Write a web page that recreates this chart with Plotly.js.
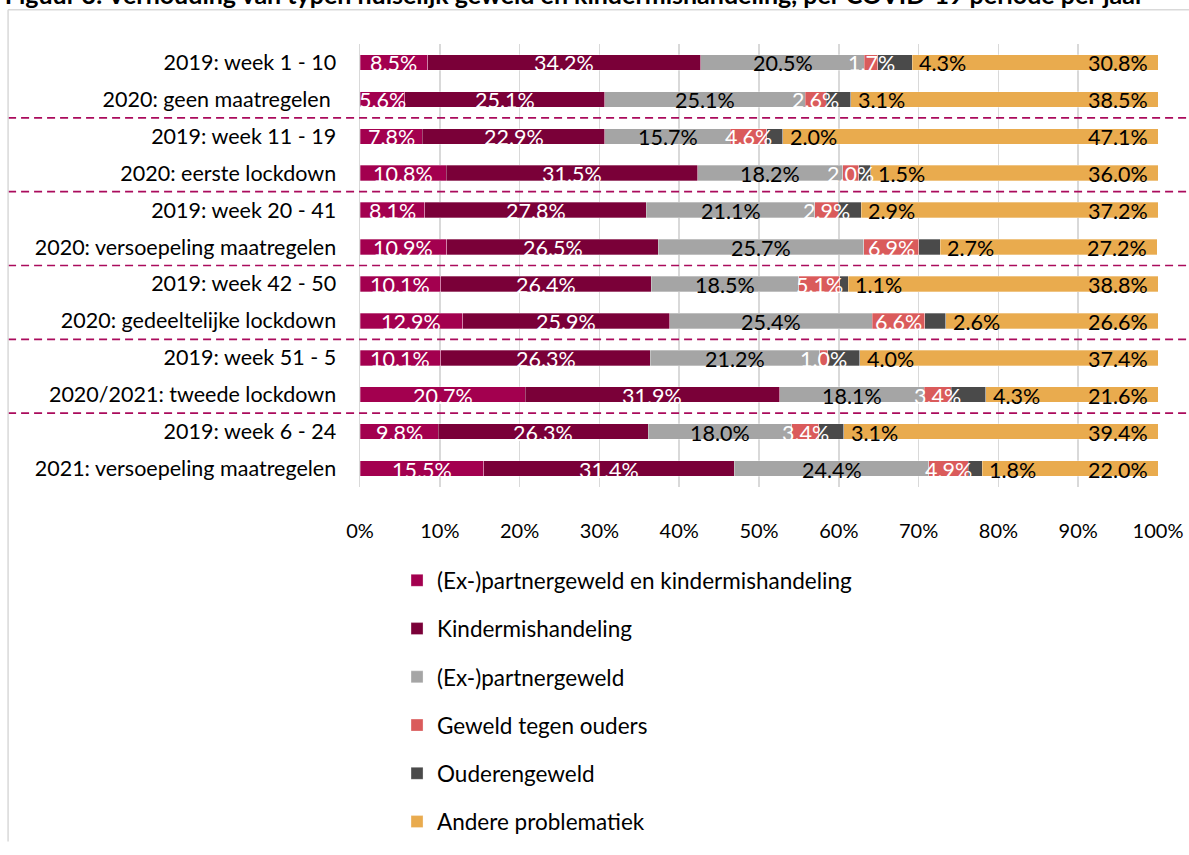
<!DOCTYPE html>
<html>
<head>
<meta charset="utf-8">
<script src="https://cdn.plot.ly/plotly-3.0.1.min.js"></script>
<style>html,body{margin:0;padding:0;background:#fff;}#chart{width:1189px;height:855px;}</style>
</head>
<body>
<div id="chart"></div>
<script>
const categories = [
  '2019: week 1 - 10',
  '2020: geen maatregelen\u00a0',
  '2019: week 11 - 19',
  '2020: eerste lockdown',
  '2019: week 20 - 41',
  '2020: versoepeling maatregelen',
  '2019: week 42 - 50',
  '2020: gedeeltelijke lockdown',
  '2019: week 51 - 5',
  '2020/2021: tweede lockdown',
  '2019: week 6 - 24',
  '2021: versoepeling maatregelen'
];
const seriesNames = ['(Ex-)partnergeweld en kindermishandeling','Kindermishandeling','(Ex-)partnergeweld','Geweld tegen ouders','Ouderengeweld','Andere problematiek'];
const partnerKind = [8.5,5.6,7.8,10.8,8.1,10.9,10.1,12.9,10.1,20.7,9.8,15.5];
const kinder      = [34.2,25.1,22.9,31.5,27.8,26.5,26.4,25.9,26.3,31.9,26.3,31.4];
const partner     = [20.5,25.1,15.7,18.2,21.1,25.7,18.5,25.4,21.2,18.1,18.0,24.4];
const ouders      = [1.7,2.6,4.6,2.0,2.9,6.9,5.1,6.6,1.0,3.4,3.4,4.9];
const ouderen     = [4.3,3.1,2.0,1.5,2.9,2.7,1.1,2.6,4.0,4.3,3.1,1.8];
const andere      = [30.8,38.5,47.1,36.0,37.2,27.2,38.8,26.6,37.4,21.6,39.4,22.0];
const xTicks = [0,10,20,30,40,50,60,70,80,90,100];
const titleText = 'Figuur 3: Verhouding van typen huiselijk geweld en kindermishandeling, per COVID-19 periode per jaar';

const colors = ['#A3004F','#7A0038','#A5A5A5','#DA5B5B','#4A4A4A','#E9AB4E'];
const labelColors = ['#ffffff','#ffffff','#000000','#ffffff','#000000','#000000'];
const allSeries = [partnerKind, kinder, partner, ouders, ouderen, andere];
const FONT = 'Lato, "Liberation Sans", sans-serif';
const LABEL_SIZE = 21.5;

const traces = allSeries.map((vals, i) => ({
  type: 'bar',
  orientation: 'h',
  name: seriesNames[i],
  legendgroup: 'g' + i,
  x: vals,
  y: categories,
  marker: {color: colors[i], line: {color: 'rgba(255,255,255,0.5)', width: 0.6}},
  hoverinfo: 'x+name'
}));

// Data labels as annotations, positioned from the cumulative values
const annotations = [];
categories.forEach((c, k) => {
  let cum = 0;
  allSeries.forEach((vals, i) => {
    const v = vals[k];
    const a = {
      xref: 'x', yref: 'y', y: c, yshift: -1,
      text: v.toFixed(1) + '%', showarrow: false,
      font: {family: FONT, size: LABEL_SIZE, color: labelColors[i]}
    };
    if (i === 4) {            // Ouderengeweld: just right of segment
      a.x = cum + v; a.xanchor = 'left'; a.xshift = 5;
    } else if (i === 5) {     // Andere problematiek: inside end (bar end, clipped to axis max)
      a.x = Math.min(cum + v, 100); a.xanchor = 'right'; a.xshift = -8;
    } else {                  // centred
      a.x = cum + v / 2; a.xanchor = 'center';
    }
    annotations.push(a);
    cum += v;
  });
});

const shapes = [];
[1.5, 3.5, 5.5, 7.5, 9.5].forEach(yv => {
  shapes.push({type: 'line', xref: 'paper', yref: 'y', x0: -0.441, x1: 1.05, y0: yv, y1: yv,
    line: {color: '#AA0B5C', width: 1.6, dash: '8px,5px'}});
});
// chart-area border (top and left)
shapes.push({type: 'line', xref: 'paper', yref: 'paper', x0: -0.441, x1: 1.05, y0: 1.0773, y1: 1.0773, line: {color: '#D9D9D9', width: 1.5}});
shapes.push({type: 'line', xref: 'paper', yref: 'paper', x0: -0.441, x1: -0.441, y0: 1.0773, y1: -0.8, line: {color: '#D9D9D9', width: 1.5}});

const layout = {
  width: 1189, height: 855,
  margin: {l: 360, r: 31, t: 44, b: 358},
  paper_bgcolor: '#fff', plot_bgcolor: '#fff',
  barmode: 'stack', bargap: 0.58,
  font: {family: FONT, size: 21, color: '#000'},
  title: {text: '<b>' + titleText + '</b>', xref: 'container', yref: 'container', x: 0.004, xanchor: 'left', y: 0.9952, yanchor: 'bottom', font: {family: FONT, size: 25, color: '#000'}},
  xaxis: {range: [0, 100], tickvals: xTicks, ticktext: xTicks.map(v => v + '%'), showgrid: true, gridcolor: '#D9D9D9', gridwidth: 1.5, zeroline: false, showline: false, ticks: '', ticklabelstandoff: 30, tickfont: {family: FONT, size: 20, color: '#000'}, fixedrange: true},
  yaxis: {type: 'category', categoryorder: 'array', categoryarray: categories, autorange: 'reversed', showgrid: false, zeroline: false, showline: true, linecolor: '#D9D9D9', linewidth: 1.5, ticks: '', ticklabelstandoff: 18, tickfont: {family: FONT, size: 21.5, color: '#000'}, fixedrange: true},
  legend: {orientation: 'v', x: 0.0464, xanchor: 'left', y: -0.163, yanchor: 'top', traceorder: 'grouped', tracegroupgap: 16, font: {family: FONT, size: 22.5, color: '#000'}, itemwidth: 30, bgcolor: 'rgba(0,0,0,0)'},
  shapes: shapes,
  annotations: annotations,
  showlegend: true
};

Plotly.newPlot('chart', traces, layout, {displayModeBar: false, staticPlot: true});
</script>
</body>
</html>
